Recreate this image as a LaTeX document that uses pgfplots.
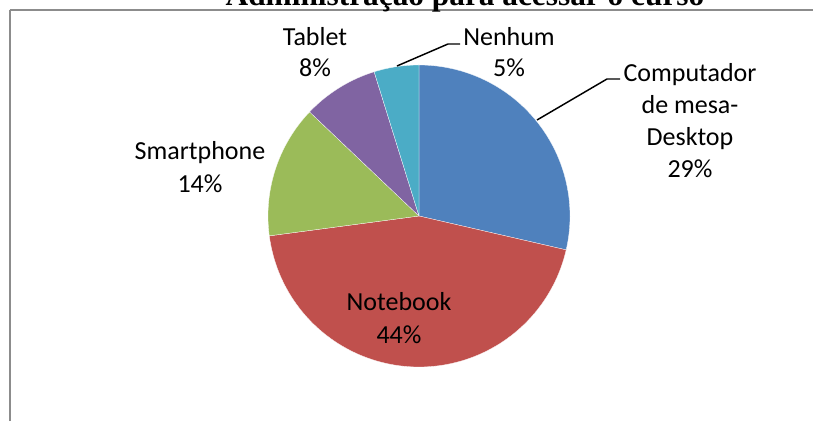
\documentclass[border=0pt]{standalone}
\usepackage{pgfplots}
\pgfplotsset{compat=1.18}
\usepackage{pgfplotstable}
\usepackage{fontspec}
\setmainfont{Carlito}
\newfontfamily\titlefont{Liberation Serif}

\definecolor{sBlue}{HTML}{4F81BD}
\definecolor{sRed}{HTML}{C0504D}
\definecolor{sGreen}{HTML}{9BBB59}
\definecolor{sPurple}{HTML}{8064A2}
\definecolor{sAqua}{HTML}{4BACC6}
\definecolor{borderGray}{HTML}{8C8C8C}

% shares in percent, clockwise from 12 o'clock
\pgfplotstableread{
label value
Computador 28.6
Notebook 44.3
Smartphone 14.2
Tablet 8.1
Nenhum 4.8
}\piedata

% pie centre and radius in picture pixels
\def\cx{419}
\def\cy{205}
\def\rr{151}

% #1 start (percent), #2 size (percent), #3 colour
\newcommand{\slice}[3]{%
  \pgfmathsetmacro\aEnd{90-3.6*(#1)}%
  \pgfmathsetmacro\aBeg{90-3.6*(#1+#2)}%
  \edef\doslice{\noexpand\addplot[fill=#3, draw=white, line width=0.2pt,
      samples=90, domain=\aBeg:\aEnd, variable=\noexpand\t]
      ({\cx+\rr*cos(t)},{\cy+\rr*sin(t)}) -- (axis cs:\cx,\cy) -- cycle;}%
  \doslice
}

\begin{document}
\begin{tikzpicture}
\pgfplotstablegetelem{0}{value}\of\piedata \let\vA\pgfplotsretval
\pgfplotstablegetelem{1}{value}\of\piedata \let\vB\pgfplotsretval
\pgfplotstablegetelem{2}{value}\of\piedata \let\vC\pgfplotsretval
\pgfplotstablegetelem{3}{value}\of\piedata \let\vD\pgfplotsretval
\pgfplotstablegetelem{4}{value}\of\piedata \let\vE\pgfplotsretval
\pgfmathsetmacro\sB{\vA}
\pgfmathsetmacro\sC{\vA+\vB}
\pgfmathsetmacro\sD{\vA+\vB+\vC}
\pgfmathsetmacro\sE{\vA+\vB+\vC+\vD}
\begin{axis}[
    at={(0,0)}, anchor=south west,
    x=0.75pt, y=0.75pt,
    xmin=0, xmax=813, ymin=0, ymax=421,
    scale only axis, hide axis, clip=false,
  ]
  \slice{0}{\vA}{sBlue}
  \slice{\sB}{\vB}{sRed}
  \slice{\sC}{\vC}{sGreen}
  \slice{\sD}{\vD}{sPurple}
  \slice{\sE}{\vE}{sAqua}

  % chart frame: left and top sides
  \draw[draw=borderGray, line width=1.5pt] (axis cs:10,0) -- (axis cs:10,411);
  \draw[draw=borderGray, line width=1.5pt] (axis cs:9.5,411) -- (axis cs:813,411);

  % title, mostly cut off by the top edge
  \node[anchor=base, font=\titlefont\bfseries\fontsize{23.5}{28}\selectfont]
    at (axis cs:465,415.5) {Administração para acessar o curso};

  % leader lines
  \draw[black, line width=1.1pt] (axis cs:397,355) -- (axis cs:448,377) -- (axis cs:460,377);
  \draw[black, line width=1.1pt] (axis cs:537,301) -- (axis cs:607,342) -- (axis cs:620,342);

  \begin{scope}[every node/.style={anchor=base, font=\fontsize{19.5}{24}\selectfont}]
    \node at (axis cs:690,339) {Computador};
    \node at (axis cs:690,307) {de mesa-};
    \node at (axis cs:690,275) {Desktop};
    \node at (axis cs:690,243) {29\%};
    \node at (axis cs:399,110) {Notebook};
    \node at (axis cs:399,77) {44\%};
    \node at (axis cs:200,261) {Smartphone};
    \node at (axis cs:200,228) {14\%};
    \node at (axis cs:315,375) {Tablet};
    \node at (axis cs:315,344) {8\%};
    \node at (axis cs:509,375) {Nenhum};
    \node at (axis cs:509,344) {5\%};
  \end{scope}
\end{axis}
\pgfresetboundingbox
\useasboundingbox (0,0) rectangle (609.75pt,315.75pt);
\end{tikzpicture}
\end{document}
